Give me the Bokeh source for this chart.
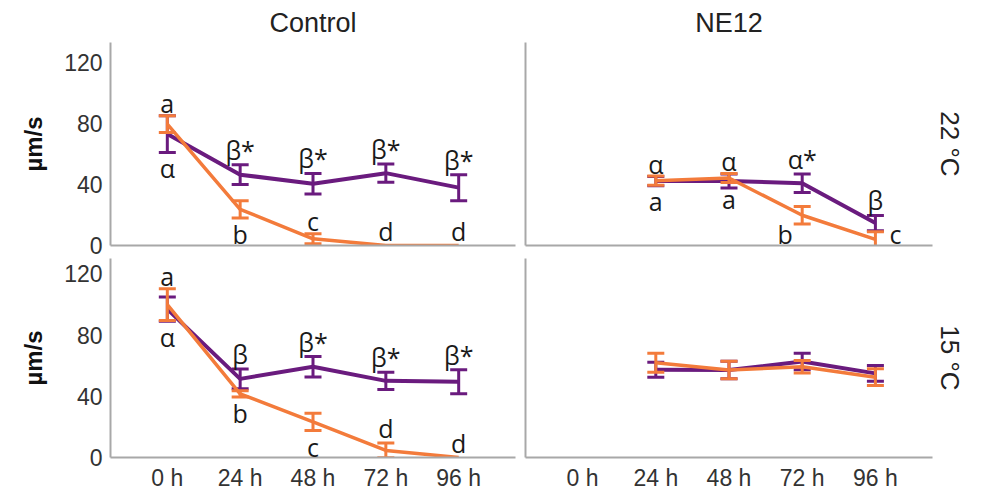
from bokeh.plotting import figure
from bokeh.layouts import gridplot
from bokeh.models import Range1d, FixedTicker, LinearAxis, ColumnDataSource, LabelSet
from bokeh.core.properties import value
from bokeh.embed import file_html
from bokeh.resources import INLINE

# ---------------- data ----------------
hours = ["0 h", "24 h", "48 h", "72 h", "96 h"]
x_pos = [0, 1, 2, 3, 4]
y_ticks = [0, 40, 80, 120]

# Control, 22 °C
ctl22_purple_mean = [73, 46.4, 40.5, 47.4, 37.9]
ctl22_purple_err = [12, 6.5, 6.7, 6.0, 8.5]
ctl22_orange_mean = [79.5, 23.7, 4.4, 0, 0]
ctl22_orange_err = [5.5, 5.7, 3.3, 0, 0]

# NE12, 22 °C
ne22_purple_mean = [None, 42.2, 42.3, 40.8, 14.7]
ne22_purple_err = [None, 3.0, 4.6, 6.0, 5.0]
ne22_orange_mean = [None, 42.5, 44.2, 19.8, 4.0]
ne22_orange_err = [None, 3.0, 3.0, 5.7, 5.0]

# Control, 15 °C
ctl15_purple_mean = [97, 51.4, 59.3, 50.1, 49.5]
ctl15_purple_err = [8.0, 6.5, 6.7, 5.6, 7.8]
ctl15_orange_mean = [100, 41.6, 23.3, 4.6, 0]
ctl15_orange_err = [10.4, 2.0, 5.7, 4.8, 0]

# NE12, 15 °C
ne15_purple_mean = [None, 57.4, 57.2, 62.7, 55.0]
ne15_purple_err = [None, 4.9, 5.7, 5.4, 5.1]
ne15_orange_mean = [None, 62.0, 57.2, 59.3, 52.5]
ne15_orange_err = [None, 6.2, 5.7, 4.1, 5.5]

# significance letters: (series, time index, text, side)
ctl22_letters = [("o", 0, "a", "above"), ("o", 1, "b", "below"), ("o", 2, "c", "above"),
                 ("o", 3, "d", "above"), ("o", 4, "d", "above"),
                 ("p", 0, "α", "below"), ("p", 1, "β*", "above"), ("p", 2, "β*", "above"),
                 ("p", 3, "β*", "above"), ("p", 4, "β*", "above")]
ne22_letters = [("p", 1, "α", "above"), ("p", 2, "α", "above"), ("p", 3, "α*", "above"),
                ("p", 4, "β", "above"),
                ("o", 1, "a", "below"), ("o", 2, "a", "below"), ("o", 3, "b", "belowleft"),
                ("o", 4, "c", "right")]
ctl15_letters = [("o", 0, "a", "above"), ("o", 1, "b", "below"), ("o", 2, "c", "below"),
                 ("o", 3, "d", "above"), ("o", 4, "d", "above"),
                 ("p", 0, "α", "below"), ("p", 1, "β", "above"), ("p", 2, "β*", "above"),
                 ("p", 3, "β*", "above"), ("p", 4, "β*", "above")]
ne15_letters = []

PURPLE = "#6a1b7e"
ORANGE = "#f37b3b"
AXIS = "#a8a8a8"
SANS = "Liberation Sans"
SHORT_GLYPHS = ("a", "c", "α")


def series_source(mean, err):
    xs, ys = [], []
    for x, m in zip(x_pos, mean):
        if m is None:
            continue
        xs.append(x)
        ys.append(m)
    return ColumnDataSource(dict(x=xs, y=ys))


def err_source(mean, err):
    xs, lo, hi = [], [], []
    for x, m, e in zip(x_pos, mean, err):
        if m is None or not e:
            continue
        xs.append(x)
        lo.append(m - e)
        hi.append(m + e)
    return ColumnDataSource(dict(x=xs, lo=lo, hi=hi))


def style_axis(ax):
    ax.axis_line_color = AXIS
    ax.axis_line_width = 2
    ax.major_tick_line_color = None
    ax.minor_tick_line_color = None
    ax.major_tick_out = 0
    ax.major_tick_in = 0
    ax.minor_tick_out = 0
    ax.minor_tick_in = 0


def make_panel(width, height, borders, y_top, purple, orange, letters,
               left_labels, bottom_labels, title=None, strip=None):
    bl, br, bt, bb = borders
    p = figure(width=width, height=height, output_backend="svg", toolbar_location=None,
               x_range=Range1d(-0.78, 4.78), y_range=Range1d(0, y_top),
               min_border_left=bl, min_border_right=br, min_border_top=bt,
               min_border_bottom=bb)
    p.grid.visible = False
    p.outline_line_color = None
    p.background_fill_color = "white"
    p.border_fill_color = "white"

    # x axis
    xa = p.xaxis[0]
    style_axis(xa)
    xa.ticker = FixedTicker(ticks=x_pos if bottom_labels else [])
    xa.major_label_overrides = {i: h for i, h in zip(x_pos, hours)}
    xa.major_label_text_font = SANS
    xa.major_label_text_font_size = "23px"
    xa.major_label_text_color = "#333333"
    xa.major_label_standoff = 7

    # y axis
    ya = p.yaxis[0]
    style_axis(ya)
    ya.ticker = FixedTicker(ticks=y_ticks if left_labels else [])
    ya.major_label_text_font = SANS
    ya.major_label_text_font_size = "23px"
    ya.major_label_text_color = "#333333"
    ya.major_label_standoff = 8
    if left_labels:
        ya.axis_label = "µm/s"
        ya.axis_label_text_font = SANS
        ya.axis_label_text_font_size = "24px"
        ya.axis_label_text_font_style = "bold"
        ya.axis_label_text_color = "#111111"
        ya.axis_label_standoff = 14

    if title:
        p.title.text = title
        p.title.align = "center"
        p.title.text_font = SANS
        p.title.text_font_size = "27px"
        p.title.text_font_style = "normal"
        p.title.text_color = "#222222"
        p.title.standoff = 9

    if strip:
        ra = LinearAxis(ticker=FixedTicker(ticks=[]), axis_label=strip,
                        axis_label_standoff=2,
                        axis_label_text_font=SANS, axis_label_text_font_size="26px",
                        axis_label_text_font_style="normal",
                        axis_label_text_color="#222222")
        style_axis(ra)
        ra.axis_line_color = None
        p.add_layout(ra, "right")

    for key, (mean, err), color, lw in (("p", purple, PURPLE, 4), ("o", orange, ORANGE, 3.5)):
        s = series_source(mean, err)
        e = err_source(mean, err)
        p.line("x", "y", source=s, line_color=color, line_width=lw)
        p.segment(x0="x", y0="lo", x1="x", y1="hi", source=e, line_color=color, line_width=3)
        p.scatter("x", "lo", source=e, marker="dash", size=17, line_color=color, line_width=3)
        p.scatter("x", "hi", source=e, marker="dash", size=17, line_color=color, line_width=3)

    # significance letters
    tx, ty, tt, xo, yo = [], [], [], [], []
    for key, i, txt, side in letters:
        mean, err = purple if key == "p" else orange
        m = mean[i]
        e = err[i] or 0
        tx.append(x_pos[i])
        tt.append(txt)
        if side == "above":
            ty.append(m + e); xo.append(0)
            yo.append(12.5 if txt in SHORT_GLYPHS else 15)
        elif side == "below":
            ty.append(m - e); xo.append(0); yo.append(-16)
        elif side == "belowleft":
            ty.append(m - e); xo.append(-17); yo.append(-10)
        else:  # right
            ty.append(m); xo.append(20); yo.append(5)
    if letters:
        ls = ColumnDataSource(dict(x=tx, y=ty, text=tt, xo=xo, yo=yo))
        p.add_layout(LabelSet(x="x", y="y", text="text", x_offset="xo", y_offset="yo",
                              source=ls, text_font=value("Open Sans"),
                              text_font_size="25px", text_align="center",
                              text_baseline="middle", text_color="#1a1a1a"))
    return p


# top row: frame 203 px for 0..133; bottom row: frame 199 px for 0..130.1 (same scale)
p1 = make_panel(520, 258, (110, 5, 42, 13), 133, (ctl22_purple_mean, ctl22_purple_err),
                (ctl22_orange_mean, ctl22_orange_err), ctl22_letters,
                True, False, title="Control")
p2 = make_panel(466, 258, (5, 54, 42, 13), 133, (ne22_purple_mean, ne22_purple_err),
                (ne22_orange_mean, ne22_orange_err), ne22_letters,
                False, False, title="NE12", strip="22 °C")
p3 = make_panel(520, 236, (110, 5, 0, 37), 130.1, (ctl15_purple_mean, ctl15_purple_err),
                (ctl15_orange_mean, ctl15_orange_err), ctl15_letters,
                True, True)
p4 = make_panel(466, 236, (5, 54, 0, 37), 130.1, (ne15_purple_mean, ne15_purple_err),
                (ne15_orange_mean, ne15_orange_err), ne15_letters,
                False, True, strip="15 °C")

grid = gridplot([[p1, p2], [p3, p4]], toolbar_location=None)

open("out.html", "w").write(file_html(grid, INLINE))
